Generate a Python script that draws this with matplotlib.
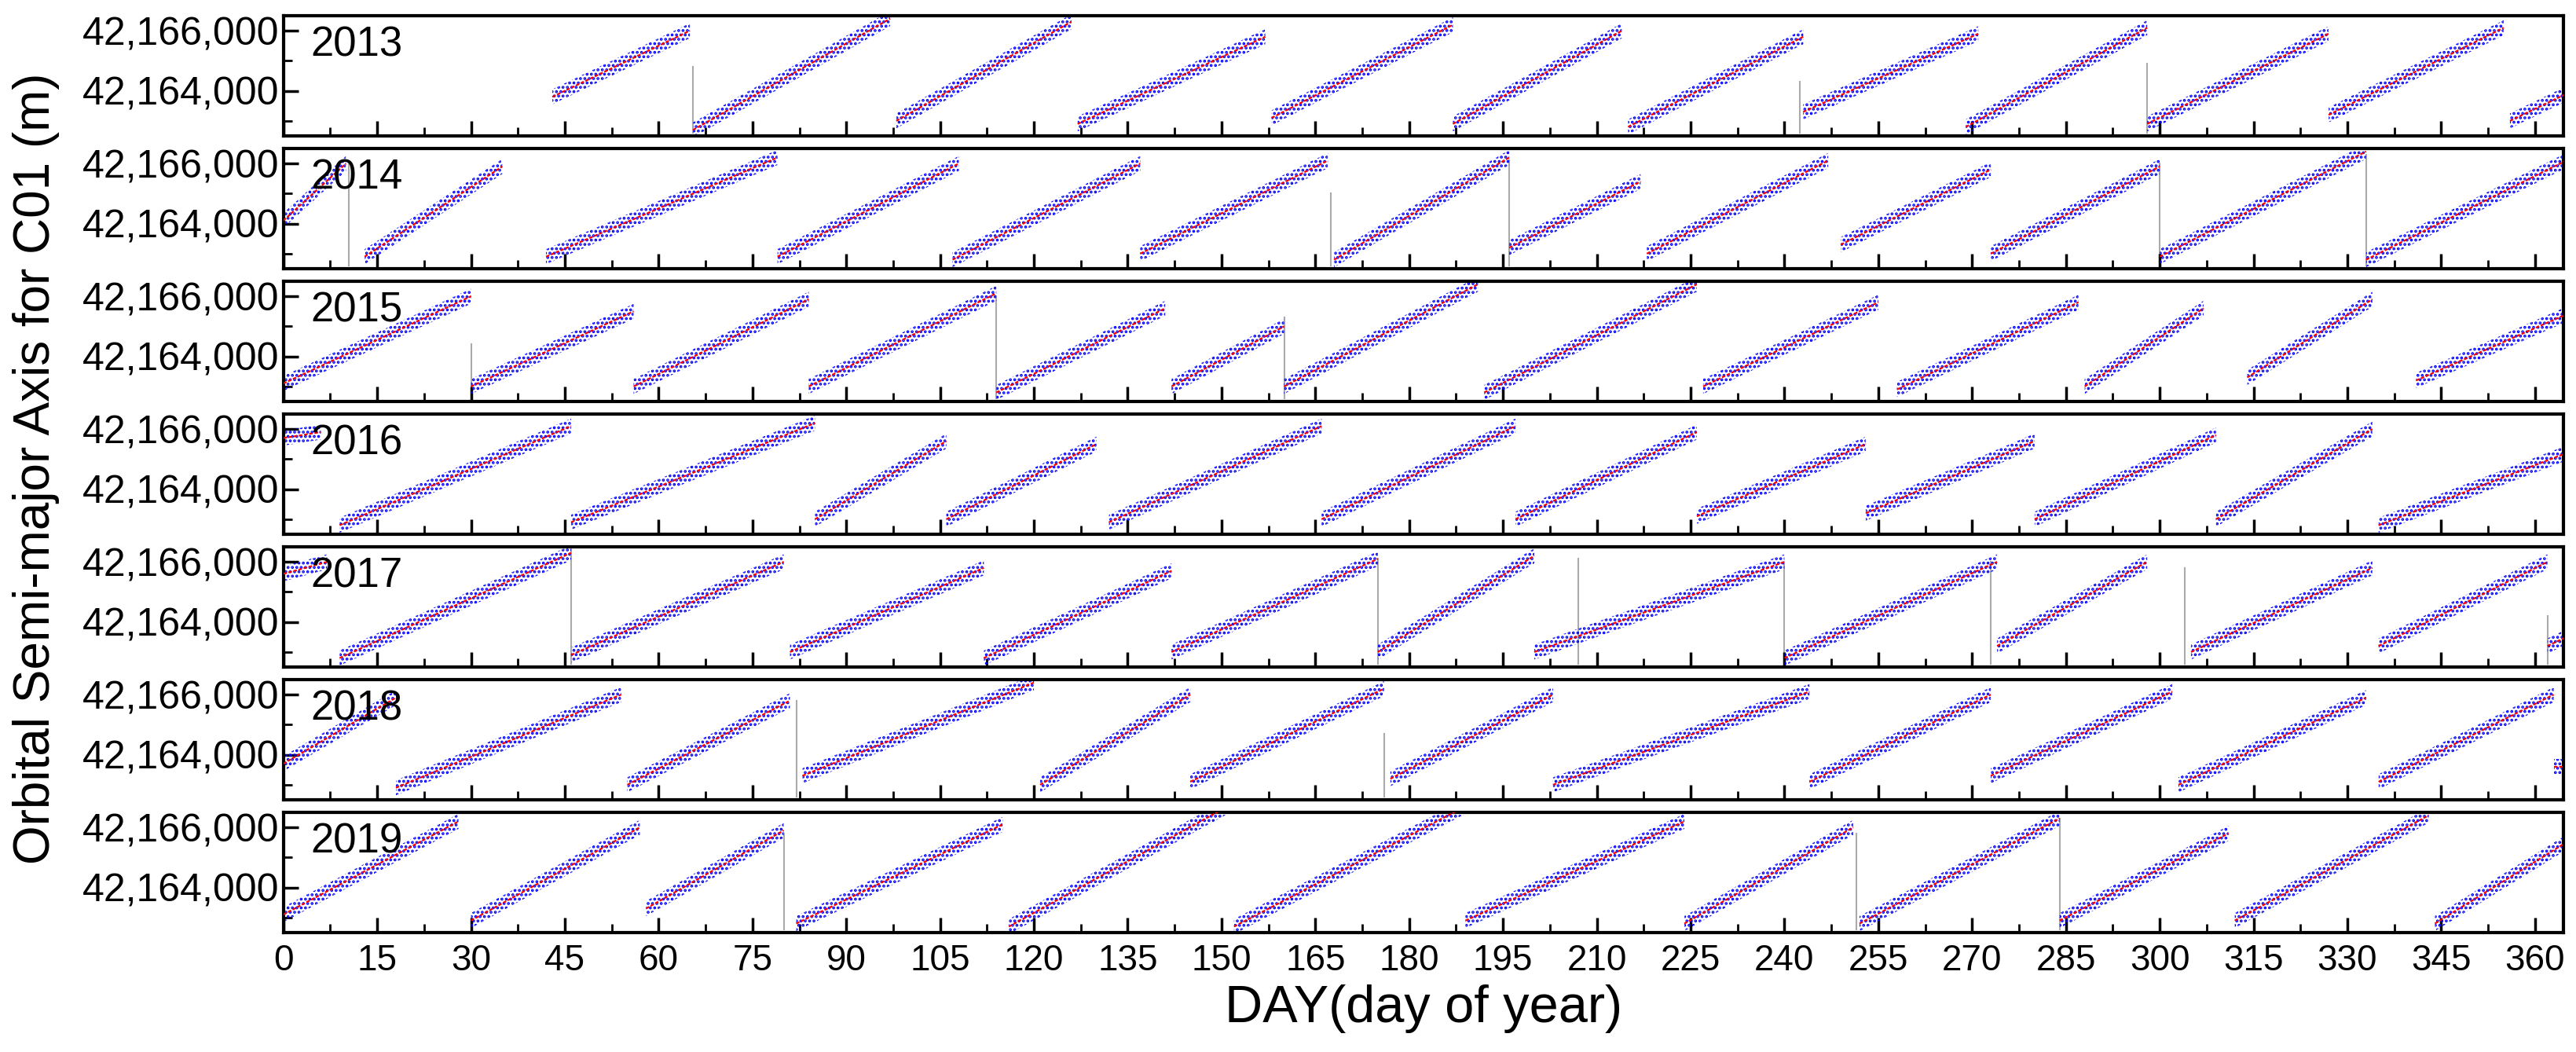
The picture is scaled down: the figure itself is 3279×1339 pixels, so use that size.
import matplotlib
matplotlib.use("Agg")
import matplotlib.pyplot as plt
from matplotlib.ticker import FuncFormatter, MultipleLocator

plt.rcParams['hatch.linewidth'] = 1.8
plt.rcParams['font.family'] = ['Liberation Sans', 'DejaVu Sans']

years = [2013, 2014, 2015, 2016, 2017, 2018, 2019]

# arcs per year: (start day, end day, start value m, end value m)
arcs_2013 = [(43, 65, 42163800, 42166000), (65.5, 97, 42162700, 42166400), (98, 126, 42163000, 42166300),
             (127, 157, 42162900, 42165800), (158, 187, 42163100, 42166200), (187, 214, 42162900, 42166000),
             (215, 243, 42162800, 42165800), (243, 271, 42163300, 42165900), (269, 298, 42162800, 42166100),
             (298, 327, 42162900, 42165900), (327, 355, 42163200, 42166100), (356, 365, 42163000, 42163900)]
arcs_2014 = [(0, 10, 42164100, 42166000), (13, 35, 42162900, 42165900), (42, 79, 42162900, 42166200),
             (79, 108, 42162900, 42166000), (107, 137, 42162800, 42166000), (137, 167, 42163000, 42166100),
             (168, 196, 42162800, 42166200), (196, 217, 42163200, 42165400), (218, 247, 42163000, 42166100),
             (249, 273, 42163300, 42165800), (273, 300, 42163000, 42165900), (300, 333, 42162900, 42166400),
             (333, 365, 42162800, 42166100)]
arcs_2015 = [(0, 30, 42163100, 42166000), (30, 56, 42163000, 42165500), (56, 84, 42163000, 42165900),
             (84, 114, 42163000, 42166100), (114, 141, 42162800, 42165600), (142, 160, 42163000, 42165000),
             (160, 191, 42163000, 42166400), (192, 226, 42162800, 42166400), (227, 255, 42163000, 42165800),
             (258, 287, 42162900, 42165800), (288, 307, 42163000, 42165600), (314, 334, 42163300, 42165900),
             (341, 365, 42163200, 42165400)]
arcs_2016 = [(0, 6, 42165700, 42165900), (9, 46, 42162800, 42166100), (46, 85, 42162900, 42166200),
             (85, 106, 42163000, 42165600), (106, 130, 42163000, 42165500), (132, 166, 42162900, 42166100),
             (166, 197, 42163000, 42166100), (197, 226, 42163000, 42165900), (226, 253, 42163100, 42165500),
             (253, 280, 42163200, 42165600), (280, 309, 42163000, 42165800), (309, 334, 42163000, 42166000),
             (335, 365, 42162800, 42165200)]
arcs_2017 = [(0, 7, 42165600, 42166000), (9, 46, 42162800, 42166300), (46, 80, 42162900, 42166000),
             (81, 112, 42163000, 42165800), (112, 142, 42162800, 42165700), (142, 175, 42163000, 42166100),
             (175, 200, 42163000, 42166200), (200, 240, 42163000, 42166000), (240, 274, 42162800, 42166000),
             (274, 298, 42163200, 42166000), (305, 334, 42163000, 42165800), (335, 362, 42163200, 42166000),
             (362, 365, 42163200, 42163500)]
arcs_2018 = [(0, 18, 42163700, 42165900), (18, 54, 42162900, 42166000), (55, 81, 42163000, 42165800),
             (83, 120, 42163300, 42166400), (121, 145, 42163000, 42166000), (145, 176, 42163100, 42166200),
             (177, 203, 42163200, 42166000), (203, 244, 42163000, 42166100), (244, 273, 42163100, 42166000),
             (273, 302, 42163300, 42166100), (303, 333, 42163000, 42165900), (335, 363, 42163100, 42166000),
             (363, 365, 42163600, 42163600)]
arcs_2019 = [(0, 28, 42163100, 42166200), (30, 57, 42162900, 42166000), (58, 80, 42163300, 42165900),
             (82, 115, 42162800, 42166100), (116, 151, 42162700, 42166700), (152, 189, 42162700, 42166700),
             (189, 224, 42162900, 42166200), (224, 251, 42162800, 42166000), (252, 284, 42162800, 42166300),
             (284, 311, 42162900, 42165800), (312, 343, 42162900, 42166400), (344, 365, 42162800, 42165500)]
all_arcs = [arcs_2013, arcs_2014, arcs_2015, arcs_2016, arcs_2017, arcs_2018, arcs_2019]

# manoeuvre markers: (day, top value)
jumps = [[(65.5, 42164800), (242.5, 42164300), (298, 42164900)],
         [(10.5, 42166000), (167.5, 42165000), (196, 42166100), (300, 42166000), (333, 42166300)],
         [(30, 42164400), (114, 42166000), (160, 42165300)],
         [],
         [(46, 42166600), (175, 42166100), (207, 42166100), (240, 42166000), (273, 42166000), (304, 42165800), (362, 42164200)],
         [(82, 42165800), (176, 42164700)],
         [(80, 42165800), (251.5, 42165800), (284, 42166300)]]

fig = plt.figure(figsize=(32.79, 13.39), dpi=100)
H = 1339
for i, yr in enumerate(years):
    top = 20 + i * 169
    ax = fig.add_axes([0.110, 1 - (top + 153) / H, 0.885, 153 / H])
    for d, v in jumps[i]:
        ax.plot([d, d], [42162600, v], color='#aaaaaa', lw=1.5, zorder=1)
    for d0, d1, v0, v1 in all_arcs[i]:
        ax.fill_between([d0, d1], [v0 - 250, v1 - 250], [v0 + 250, v1 + 250],
                        facecolor='none', edgecolor='blue', hatch='...', linewidth=0, zorder=2)
        ax.plot([d0, d1], [v0, v1], color='red', lw=1.6, ls=(0, (2, 1)), zorder=3)
    ax.set_xlim(0, 364.5)
    ax.set_ylim(42162500, 42166500)
    ax.yaxis.set_major_locator(MultipleLocator(2000))
    ax.yaxis.set_minor_locator(MultipleLocator(1000))
    ax.xaxis.set_major_locator(MultipleLocator(15))
    ax.xaxis.set_minor_locator(MultipleLocator(7.5))
    ax.yaxis.set_major_formatter(FuncFormatter(lambda v, p: f"{v:,.0f}"))
    ax.tick_params(which='major', direction='in', length=14, width=2.5, labelsize=36)
    ax.tick_params(which='minor', direction='in', length=8, width=2)
    ax.tick_params(axis='x', labelbottom=(i == 6), labelsize=33, pad=10)
    for s in ax.spines.values():
        s.set_linewidth(3)
    ax.text(0.012, 0.92, str(yr), transform=ax.transAxes, fontsize=38, va='top')
    if i == 6:
        ax.set_xlabel('DAY(day of year)', fontsize=48, labelpad=6)

fig.text(0.005, 0.555, 'Orbital Semi-major Axis for C01 (m)', rotation=90, fontsize=46,
         va='center', ha='left')
fig.savefig('out.png', dpi=100)
